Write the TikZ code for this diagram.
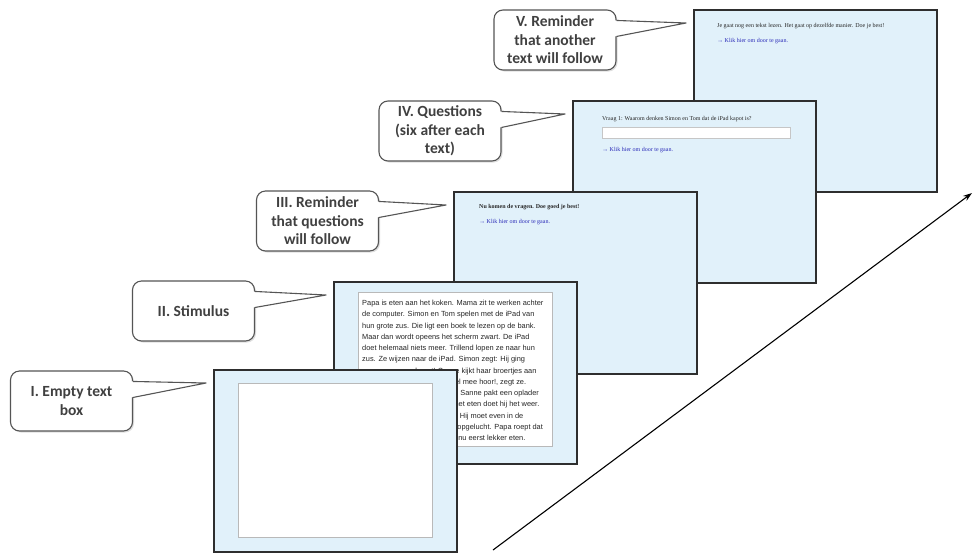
\documentclass[tikz,border=0pt]{standalone}
\usepackage{fontspec}
\setmainfont{Liberation Serif}
\newfontfamily\calib{Carlito}
\newfontfamily\arial{Liberation Sans}
\usetikzlibrary{arrows.meta,calc,shadows}
\definecolor{scrfill}{HTML}{E1F1FA}
\definecolor{scrline}{HTML}{2E2E2E}
\definecolor{linkblue}{HTML}{2A2AB8}
\definecolor{calltext}{HTML}{404040}
\definecolor{callline}{HTML}{555555}
\newcommand\mycallout[4]{%
  \node[callbox] (#1) at (#2) {#3};
  \coordinate (#1t) at ($(#4.north west)+(-7,14)$);
  \fill[white] ($(#1.north east)+(-2,11)$) -- (#1t) -- ($(#1.north east)+(-2,27)$) -- cycle;
  \draw[draw=callline,line width=1.1pt,line join=round] ($(#1.north east)+(0,11)$) -- (#1t) -- ($(#1.north east)+(0,27)$);
}
\begin{document}
\begin{tikzpicture}[x=1pt,y=-1pt,
 screen/.style={draw=scrline,line width=1.6pt,fill=scrfill,minimum width=243pt,minimum height=182pt,inner sep=0pt,anchor=north west},
 inbox/.style={draw=gray!55,line width=1pt,fill=white,minimum width=194pt,minimum height=154pt,inner sep=0pt,anchor=north west},
 field/.style={draw=gray!45,line width=0.6pt,fill=white,minimum width=188pt,minimum height=11pt,inner sep=0pt,anchor=north west},
 callbox/.style={draw=callline,line width=1.1pt,fill=white,rounded corners=9pt,minimum width=122pt,minimum height=60pt,align=center,font=\calib\bfseries\fontsize{15.5}{18.5}\selectfont,text=calltext,drop shadow={shadow xshift=1.5pt,shadow yshift=-1.5pt,fill=gray!50,opacity=0.5}},
 tinytxt/.style={font=\fontsize{6}{7}\selectfont,anchor=base west,inner sep=0pt,text=black!85},
 linktxt/.style={tinytxt,text=linkblue},
 stim/.style={font=\arial\fontsize{7.4}{11.25}\selectfont,align=left,anchor=north west,inner sep=0pt,text=black!85},
 flow/.style={line width=1.1pt,-{Stealth[length=9pt,width=6pt]}}
]
\fill[white] (0,0) rectangle (973,552);
\useasboundingbox (0,0) rectangle (973,552);

% Screen V
\node[screen] (s5) at (693,9) {};
\node[tinytxt] (t5) at ($(s5.north west)+(24,18.5)$) {Je gaat nog een tekst lezen. Het gaat op dezelfde manier. Doe je best!};
\node[linktxt] (l5) at ($(s5.north west)+(24,33)$) {→ Klik hier om door te gaan.};

% Screen IV
\node[screen] (s4) at (572,100) {};
\node[tinytxt] (t4) at ($(s4.north west)+(30,20.5)$) {Vraag 1: Waarom denken Simon en Tom dat de iPad kapot is?};
\node[field] (f4) at ($(s4.north west)+(30,27)$) {};
\node[linktxt] (l4) at ($(s4.north west)+(30,51.5)$) {→ Klik hier om door te gaan.};

% Screen III
\node[screen] (s3) at (453,191) {};
\node[tinytxt,font=\bfseries\fontsize{6}{7}\selectfont] (t3) at ($(s3.north west)+(26,17.5)$) {Nu komen de vragen. Doe goed je best!};
\node[linktxt] (l3) at ($(s3.north west)+(26,32.5)$) {→ Klik hier om door te gaan.};

% Screen II
\node[screen] (s2) at (333,281) {};
\node[inbox] (b2) at ($(s2.north west)+(25,11)$) {};
\node[stim] (t2) at ($(s2.north west)+(29,19)$) {Papa is eten aan het koken. Mama zit te werken achter\\
de computer. Simon en Tom spelen met de iPad van\\
hun grote zus. Die ligt een boek te lezen op de bank.\\
Maar dan wordt opeens het scherm zwart. De iPad\\
doet helemaal niets meer. Trillend lopen ze naar hun\\
zus. Ze wijzen naar de iPad. Simon zegt: Hij ging\\
zomaar opeens kapot! Sanne kijkt haar broertjes aan\\
Het is niet zo erg. Dat valt wel mee hoor!, zegt ze.\\
Is de batterij misschien leeg? Sanne pakt een oplader\\
en doet hem in de iPad. Na het eten doet hij het weer.\\
De batterij was gewoon leeg. Hij moet even in de\\
stopcontact. De jongens zijn opgelucht. Papa roept dat\\
het eten klaar is en zegt: Zo, nu eerst lekker eten.};

% Screen I
\node[screen] (s1) at (213,369) {};
\node[inbox] (b1) at ($(s1.north west)+(25,14)$) {};

% Callouts
\mycallout{c1}{71.5,401}{I. Empty text\\box}{s1}
\mycallout{c2}{193.5,311}{II. Stimulus}{s2}
\mycallout{c3}{317.5,221}{III. Reminder\\that questions\\will follow}{s3}
\mycallout{c4}{440,131}{IV. Questions\\(six after each\\text)}{s4}
\mycallout{c5}{555,40}{V. Reminder\\that another\\text will follow}{s5}

% Time arrow
\coordinate (a0) at (493,550);
\coordinate (a1) at (972,193);
\draw[flow] (a0) -- (a1);
\end{tikzpicture}
\end{document}
